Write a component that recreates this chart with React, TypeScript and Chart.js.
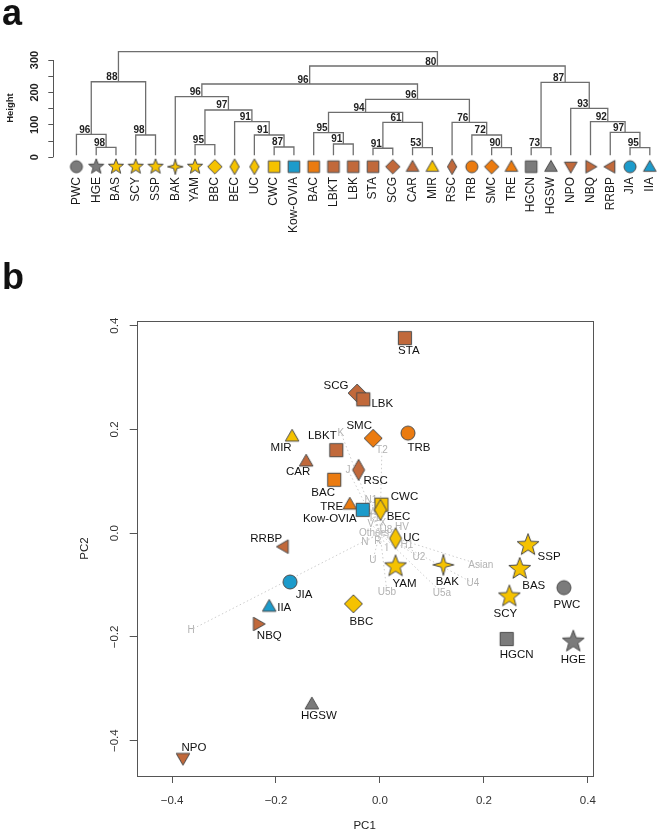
import React, { useEffect, useRef } from "react";
import { Chart, registerables } from "chart.js";

Chart.register(...registerables);

const FONT = "'Liberation Sans', Arial, Helvetica, sans-serif";

// ---------------- data ----------------
const popNames = ["PWC", "HGE", "BAS", "SCY", "SSP", "BAK", "YAM", "BBC", "BEC", "UC", "CWC", "Kow-OVIA", "BAC", "LBKT", "LBK", "STA", "SCG", "CAR", "MIR", "RSC", "TRB", "SMC", "TRE", "HGCN", "HGSW", "NPO", "NBQ", "RRBP", "JIA", "IIA"];
const popGroup = ["grey", "grey", "yellow", "yellow", "yellow", "yellow", "yellow", "yellow", "yellow", "yellow", "yellow", "blue", "orange", "brown", "brown", "brown", "brown", "brown", "yellow", "brown", "orange", "orange", "orange", "grey", "grey", "brown", "brown", "brown", "blue", "blue"];
const popShape = ["circle", "star5", "star5", "star5", "star5", "star4", "star5", "diamond", "narrowDiamond", "narrowDiamond", "square", "square", "square", "square", "square", "square", "diamond", "triangleUp", "triangleUp", "narrowDiamond", "circle", "diamond", "triangleUp", "square", "triangleUp", "triangleDown", "triangleRight", "triangleLeft", "circle", "triangleUp"];

// dendrogram merges (hclust style): strings are leaves, numbers are earlier merge rows (1-based)
const mergeLeft = ["HGE", "PWC", "SCY", 2, "YAM", "CWC", "UC", "BEC", 5, "BAK", "LBKT", "BAC", "STA", "CAR", 13, 12, "SMC", "TRB", "RSC", 16, 10, "HGCN", "JIA", "RRBP", "NBQ", "NPO", 22, 21, 4];
const mergeRight = ["BAS", 1, "SSP", 3, "BBC", "Kow-OVIA", 6, 7, 8, 9, "LBK", 11, "SCG", "MIR", 14, 15, "TRE", 17, 18, 19, 20, "HGSW", "IIA", 23, 24, 25, 26, 27, 28];
const mergeHeight = [30.8, 70.9, 68.8, 233, 38.9, 31.8, 68.8, 109.8, 145.9, 186.9, 41, 75.9, 27.8, 29.6, 107.9, 138.8, 29.6, 68.8, 107.9, 178.8, 226, 29.6, 29.6, 77.1, 109.8, 151.1, 231.3, 281.5, 325.6];
const mergeSupport = [98, 96, 98, 88, 95, 87, 91, 91, 97, 96, 91, 95, 91, 53, 61, 94, 90, 72, 76, 96, 96, 73, 95, 97, 92, 93, 87, 80, null];
const heightTicks = [0, 50, 100, 150, 200, 250, 300];

// PCA scores (same order as popNames)
const pc1 = [0.354, 0.372, 0.269, 0.249, 0.285, 0.122, 0.030, -0.051, 0.001, 0.030, 0.003, -0.033, -0.088, -0.084, -0.032, 0.048, -0.044, -0.142, -0.169, -0.041, 0.054, -0.013, -0.058, 0.244, -0.131, -0.379, -0.234, -0.186, -0.173, -0.213];
const pc2 = [-0.105, -0.209, -0.069, -0.122, -0.023, -0.061, -0.064, -0.136, 0.045, -0.010, 0.055, 0.045, 0.103, 0.160, 0.258, 0.376, 0.270, 0.139, 0.187, 0.122, 0.193, 0.183, 0.056, -0.204, -0.329, -0.434, -0.175, -0.026, -0.094, -0.141];
const pcTicks = [-0.4, -0.2, 0, 0.2, 0.4];

// loadings (haplogroups)
const loadNames = ["H", "N", "U", "U5b", "U5a", "U2", "U4", "Asian", "I", "H1", "K", "J", "T2", "N1", "W", "T1", "V", "X", "U8", "HV", "Others", "R"];
const loadPC1 = [-0.3635, -0.0288, -0.0135, 0.0135, 0.1192, 0.075, 0.1788, 0.1942, 0.0135, 0.0519, -0.075, -0.0615, 0.0038, -0.0173, -0.0135, -0.0115, -0.0173, 0.0058, 0.0115, 0.0423, -0.0115, -0.0038];
const loadPC2 = [-0.1863, -0.0168, -0.0514, -0.1131, -0.115, -0.0457, -0.0958, -0.0611, -0.0283, -0.0225, 0.1933, 0.122, 0.1605, 0.0642, 0.041, 0.0295, 0.0179, 0.0198, 0.0064, 0.0121, 0.0006, -0.0148];

// ---------------- styles ----------------
const GROUP_COLORS: Record<string, string> = {
  grey: "#7b7b7b",
  yellow: "#F5C200",
  orange: "#EB7B10",
  brown: "#C1693B",
  blue: "#1C9BCB",
};
const LEAF_HANG = 6;
const LEAF_MARKER_LEVEL = -29;

const LABEL_OFFSET: Record<string, [number, number]> = {
  STA: [4, 13], SCG: [-21, -7], LBK: [19, 4], SMC: [-14, -12], TRB: [11, 15], MIR: [-11, 12],
  LBKT: [-14, -14], CAR: [-8, 11], RSC: [17, 11], BAC: [-11, 13], TRE: [-18, 3], "Kow-OVIA": [-33, 9],
  CWC: [23, -8], BEC: [18, 7], UC: [16, -1], RRBP: [-17, -8], YAM: [9, 17], BAK: [4, 17],
  JIA: [14, 13], IIA: [15, 1], NBQ: [11, 12], BBC: [8, 18], HGSW: [7, 12], NPO: [11, -11],
  SSP: [21, 12], BAS: [14, 17], SCY: [-4, 17], PWC: [3, 17], HGCN: [10, 16], HGE: [0, 18],
};

type Sz = { circle: number; square: number; diamond: number; ndW: number; ndH: number; tri: number; star5: number; star4: number };
const SIZE_A: Sz = { circle: 6, square: 5.8, diamond: 7.2, ndW: 4.6, ndH: 7.8, tri: 6.3, star5: 8, star4: 7.8 };
const SIZE_B: Sz = { circle: 7, square: 6.6, diamond: 9, ndW: 6, ndH: 10.5, tri: 6.8, star5: 11.5, star4: 10.5 };

function makeMarker(shape: string, fill: string, s: Sz): HTMLCanvasElement {
  const ext = Math.ceil(Math.max(s.circle, s.square, s.diamond, s.ndH, s.tri * 1.3, s.star5, s.star4)) + 2;
  const c = document.createElement("canvas");
  c.width = ext * 2;
  c.height = ext * 2;
  const ctx = c.getContext("2d")!;
  ctx.translate(ext, ext);
  ctx.beginPath();
  const poly = (pts: number[][]) => {
    pts.forEach(([x, y], i) => (i ? ctx.lineTo(x, y) : ctx.moveTo(x, y)));
    ctx.closePath();
  };
  const tri = (rot: number) => {
    const w = s.tri;
    const h = s.tri * Math.sqrt(3);
    const pts = [[0, -0.58 * h], [w, 0.42 * h], [-w, 0.42 * h]];
    const r = (rot * Math.PI) / 180;
    poly(pts.map(([x, y]) => [x * Math.cos(r) - y * Math.sin(r), x * Math.sin(r) + y * Math.cos(r)]));
  };
  const star = (n: number, R: number, ratio: number) => {
    const pts: number[][] = [];
    for (let i = 0; i < 2 * n; i++) {
      const a = -Math.PI / 2 + (i * Math.PI) / n;
      const rr = i % 2 === 0 ? R : R * ratio;
      pts.push([rr * Math.cos(a), rr * Math.sin(a)]);
    }
    poly(pts);
  };
  switch (shape) {
    case "circle": ctx.arc(0, 0, s.circle, 0, Math.PI * 2); break;
    case "square": ctx.rect(-s.square, -s.square, 2 * s.square, 2 * s.square); break;
    case "diamond": poly([[0, -s.diamond], [s.diamond, 0], [0, s.diamond], [-s.diamond, 0]]); break;
    case "narrowDiamond": poly([[0, -s.ndH], [s.ndW, 0], [0, s.ndH], [-s.ndW, 0]]); break;
    case "triangleUp": tri(0); break;
    case "triangleDown": tri(180); break;
    case "triangleRight": tri(90); break;
    case "triangleLeft": tri(-90); break;
    case "star5": star(5, s.star5, 0.42); break;
    case "star4": star(4, s.star4, 0.3); break;
  }
  ctx.fillStyle = fill;
  ctx.fill();
  ctx.lineWidth = 1;
  ctx.strokeStyle = "#4a4a4a";
  ctx.stroke();
  return c;
}

const fmtPC = (v: number) => (Math.abs(v) < 1e-9 ? "0.0" : (v < 0 ? "\u2212" : "") + Math.abs(v).toFixed(1));

// ---------------- panel a ----------------
function configA(): any {
  const nodeX: number[] = [];
  const childX = (c: any) => (typeof c === "string" ? popNames.indexOf(c) : nodeX[c - 1]);
  const childH = (c: any) => (typeof c === "string" ? LEAF_HANG : mergeHeight[c - 1]);
  mergeLeft.forEach((l, i) => nodeX.push((childX(l) + childX(mergeRight[i])) / 2));

  const dendroSets = mergeLeft.map((l, i) => {
    const r = mergeRight[i];
    const h = mergeHeight[i];
    return {
      data: [
        { x: childX(l), y: childH(l) },
        { x: childX(l), y: h },
        { x: childX(r), y: h },
        { x: childX(r), y: childH(r) },
      ],
      showLine: true,
      borderColor: "#6e6e6e",
      borderWidth: 1.3,
      pointRadius: 0,
      tension: 0,
      fill: false,
      order: 2,
    };
  });

  const markers = popNames.map((_, i) => makeMarker(popShape[i], GROUP_COLORS[popGroup[i]], SIZE_A));
  const leafSet = {
    data: popNames.map((_, i) => ({ x: i, y: LEAF_MARKER_LEVEL })),
    pointStyle: markers,
    pointRadius: 6,
    showLine: false,
    order: 1,
  };

  const plugin = {
    id: "dendroExtras",
    beforeDatasetsDraw(chart: any) {
      const { ctx, chartArea, scales } = chart;
      ctx.save();
      ctx.strokeStyle = "#555";
      ctx.lineWidth = 1;
      ctx.beginPath();
      const x0 = Math.round(chartArea.left) + 0.5;
      ctx.moveTo(x0, scales.y.getPixelForValue(heightTicks[0]));
      ctx.lineTo(x0, scales.y.getPixelForValue(heightTicks[heightTicks.length - 1]));
      ctx.stroke();
      ctx.restore();
    },
    afterDatasetsDraw(chart: any) {
      const { ctx, scales } = chart;
      ctx.save();
      ctx.font = `bold 10px ${FONT}`;
      ctx.fillStyle = "#222";
      ctx.textAlign = "right";
      ctx.textBaseline = "alphabetic";
      mergeSupport.forEach((s, i) => {
        if (s == null) return;
        ctx.fillText(String(s), scales.x.getPixelForValue(nodeX[i]) - 1, scales.y.getPixelForValue(mergeHeight[i]) - 1.5);
      });
      ctx.restore();
    },
  };

  return {
    type: "scatter",
    data: { datasets: [...dendroSets, leafSet] },
    plugins: [plugin],
    options: {
      animation: false,
      responsive: false,
      maintainAspectRatio: false,
      devicePixelRatio: 1,
      events: [],
      layout: { padding: { top: 40, left: 0, right: 0, bottom: 0 } },
      plugins: { legend: { display: false }, tooltip: { enabled: false } },
      scales: {
        x: {
          type: "linear",
          min: -1.17,
          max: 29.465,
          afterBuildTicks: (s: any) => { s.ticks = popNames.map((_, i) => ({ value: i })); },
          afterFit: (s: any) => { s.height = 74; },
          ticks: {
            autoSkip: false,
            minRotation: 90,
            maxRotation: 90,
            padding: 1,
            font: { size: 12, family: FONT },
            color: "#1a1a1a",
            callback: (v: any) => popNames[v],
          },
          grid: { display: false, drawTicks: false },
          border: { display: false },
        },
        y: {
          type: "linear",
          min: -57.7,
          max: 361.7,
          afterBuildTicks: (s: any) => { s.ticks = heightTicks.map((v) => ({ value: v })); },
          afterFit: (s: any) => { s.width = 53.3; },
          ticks: {
            minRotation: 90,
            maxRotation: 90,
            crossAlign: "center",
            padding: 4,
            font: { size: 11, weight: "bold", family: FONT },
            color: "#222",
            callback: (v: any) => (v % 100 === 0 ? String(v) : ""),
          },
          grid: { drawOnChartArea: false, drawTicks: true, tickLength: 5, color: "#555" },
          border: { display: false },
          title: {
            display: true,
            text: "Height",
            font: { size: 9.5, weight: "bold", family: FONT },
            color: "#222",
            padding: { top: 5, bottom: 0 },
          },
        },
      },
    },
  };
}

// ---------------- panel b ----------------
function configB(): any {
  const loadSets = loadNames.map((_, i) => ({
    data: [{ x: 0, y: 0 }, { x: loadPC1[i], y: loadPC2[i] }],
    showLine: true,
    borderColor: "#cdcdcd",
    borderWidth: 1,
    borderDash: [1.5, 2.5],
    pointRadius: 0,
    tension: 0,
    fill: false,
    order: 5,
  }));
  const popSets = popNames.map((n, i) => ({
    data: [{ x: pc1[i], y: pc2[i] }],
    pointStyle: makeMarker(popShape[i], GROUP_COLORS[popGroup[i]], SIZE_B),
    pointRadius: 6,
    showLine: false,
    order: 1,
  }));

  const plugin = {
    id: "pcaExtras",
    beforeDatasetsDraw(chart: any) {
      const { ctx, scales } = chart;
      ctx.save();
      ctx.font = `10px ${FONT}`;
      ctx.fillStyle = "#b2b2b2";
      ctx.textAlign = "center";
      ctx.textBaseline = "middle";
      loadNames.forEach((n, i) => {
        ctx.fillText(n, scales.x.getPixelForValue(loadPC1[i]), scales.y.getPixelForValue(loadPC2[i]));
      });
      ctx.restore();
    },
    afterDatasetsDraw(chart: any) {
      const { ctx, scales, chartArea } = chart;
      ctx.save();
      ctx.strokeStyle = "#555";
      ctx.lineWidth = 1;
      const l = Math.round(chartArea.left) + 0.5;
      const t = Math.round(chartArea.top) + 0.5;
      const r = Math.round(chartArea.right) + 0.5;
      const b = Math.round(chartArea.bottom) + 0.5;
      ctx.strokeRect(l, t, r - l, b - t);
      ctx.font = `11.5px ${FONT}`;
      ctx.fillStyle = "#111";
      ctx.textAlign = "center";
      ctx.textBaseline = "middle";
      popNames.forEach((n, i) => {
        const off = LABEL_OFFSET[n] || [0, 15];
        ctx.fillText(n, scales.x.getPixelForValue(pc1[i]) + off[0], scales.y.getPixelForValue(pc2[i]) + off[1]);
      });
      ctx.restore();
    },
  };

  return {
    type: "scatter",
    data: { datasets: [...popSets, ...loadSets] },
    plugins: [plugin],
    options: {
      animation: false,
      responsive: false,
      maintainAspectRatio: false,
      devicePixelRatio: 1,
      events: [],
      layout: { padding: { top: 71, left: 0, right: 73.5, bottom: 0 } },
      plugins: { legend: { display: false }, tooltip: { enabled: false } },
      scales: {
        x: {
          type: "linear",
          min: -0.468,
          max: 0.409,
          afterBuildTicks: (s: any) => { s.ticks = pcTicks.map((v) => ({ value: v })); },
          afterFit: (s: any) => { s.height = 58; },
          ticks: { padding: 11, font: { size: 11.5, family: FONT }, color: "#333", callback: (v: any) => fmtPC(v) },
          grid: { drawOnChartArea: false, drawTicks: true, tickLength: 7, color: "#555" },
          border: { display: false },
          title: { display: true, text: "PC1", font: { size: 11.5, family: FONT }, color: "#222", padding: { top: 0, bottom: 1 } },
        },
        y: {
          type: "linear",
          min: -0.468,
          max: 0.409,
          afterBuildTicks: (s: any) => { s.ticks = pcTicks.map((v) => ({ value: v })); },
          afterFit: (s: any) => { s.width = 136.7; },
          ticks: {
            minRotation: 90,
            maxRotation: 90,
            crossAlign: "center",
            padding: 3.5,
            font: { size: 11.5, family: FONT },
            color: "#333",
            callback: (v: any) => fmtPC(v),
          },
          grid: { drawOnChartArea: false, drawTicks: true, tickLength: 7, color: "#555" },
          border: { display: false },
          title: { display: true, text: "PC2", font: { size: 11.5, family: FONT }, color: "#222", padding: { top: 78, bottom: 0 } },
        },
      },
    },
  };
}

export default function App() {
  const refA = useRef<HTMLCanvasElement>(null);
  const refB = useRef<HTMLCanvasElement>(null);
  useEffect(() => {
    const a = new Chart(refA.current as HTMLCanvasElement, configA());
    const b = new Chart(refB.current as HTMLCanvasElement, configB());
    return () => {
      a.destroy();
      b.destroy();
    };
  }, []);
  const letter: React.CSSProperties = {
    position: "absolute",
    left: 2,
    font: `bold 36px ${FONT}`,
    lineHeight: "36px",
    color: "#111",
  };
  return (
    <div style={{ position: "absolute", left: 0, top: 0, width: 666, height: 834, background: "#fff", overflow: "hidden" }}>
      <canvas ref={refA} width={666} height={250} style={{ position: "absolute", left: 0, top: 0 }} />
      <canvas ref={refB} width={666} height={584} style={{ position: "absolute", left: 0, top: 250 }} />
      <div style={{ ...letter, top: -5.5 }}>a</div>
      <div style={{ ...letter, top: 258.8 }}>b</div>
    </div>
  );
}
